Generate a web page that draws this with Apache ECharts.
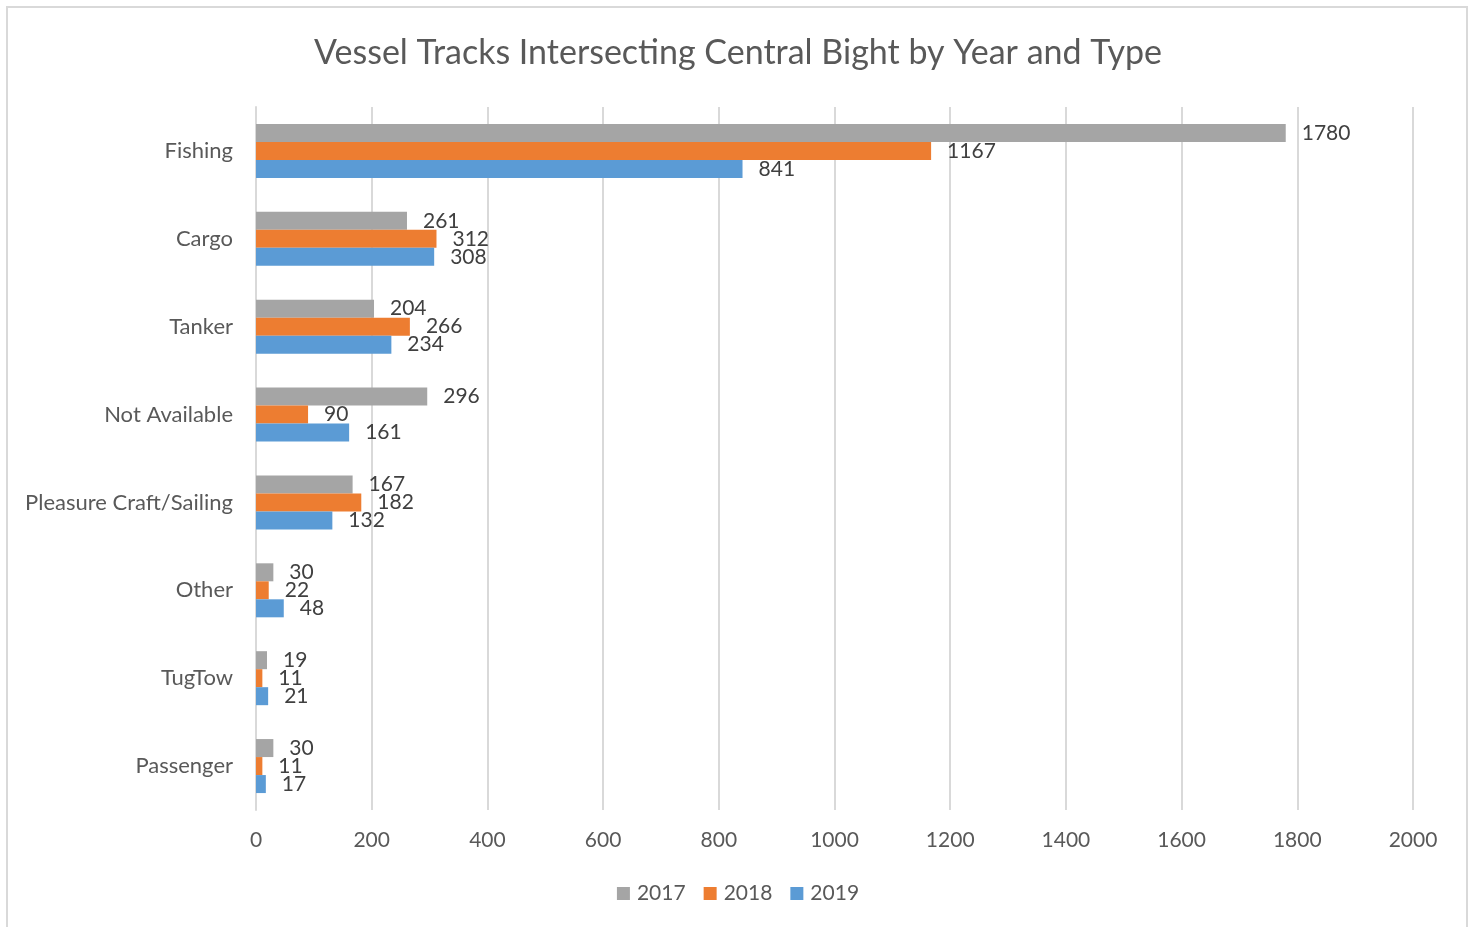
<!DOCTYPE html>
<html>
<head>
<meta charset="utf-8">
<script src="https://cdn.jsdelivr.net/npm/echarts@6/dist/echarts.min.js"></script>
<style>
  html, body { margin: 0; padding: 0; background: #fff; }
  #chart { width: 1476px; height: 927px; }
</style>
</head>
<body>
<div id="chart"></div>
<script>
// Vessel types, listed top to bottom
const categories = ['Fishing', 'Cargo', 'Tanker', 'Not Available', 'Pleasure Craft/Sailing', 'Other', 'TugTow', 'Passenger'];
const years = ['2017', '2018', '2019'];
const tracks2017 = [1780, 261, 204, 296, 167, 30, 19, 30];
const tracks2018 = [1167, 312, 266, 90, 182, 22, 11, 11];
const tracks2019 = [841, 308, 234, 161, 132, 48, 21, 17];
const colors = ['#a5a5a5', '#ed7d31', '#5b9bd5'];

const FONT = 'Lato';
const chart = echarts.init(document.getElementById('chart'));

function barSeries(name, data, color) {
  return {
    name: name,
    type: 'bar',
    data: data,
    barWidth: 18,
    barGap: '0%',
    itemStyle: { color: color },
    label: {
      show: true,
      position: 'right',
      distance: 16,
      color: '#404040',
      fontFamily: FONT,
      fontSize: 21
    }
  };
}

chart.setOption({
  animation: false,
  textStyle: { fontFamily: FONT },
  title: {
    text: 'Vessel Tracks Intersecting Central Bight by Year and Type',
    left: 'center',
    top: 31,
    textStyle: { color: '#595959', fontSize: 34, fontWeight: 'normal', fontFamily: FONT }
  },
  legend: {
    data: years,
    bottom: 18,
    left: 'center',
    itemWidth: 13,
    itemHeight: 13,
    itemGap: 18,
    icon: 'rect',
    textStyle: { color: '#595959', fontSize: 21, fontFamily: FONT, padding: [0, 0, 0, 2] }
  },
  grid: { left: 256, right: 63, top: 107, bottom: 117, containLabel: false },
  xAxis: {
    type: 'value',
    min: 0,
    max: 2000,
    interval: 200,
    axisLine: { show: false },
    axisTick: { show: false },
    axisLabel: { color: '#595959', fontSize: 21, fontFamily: FONT, margin: 20, formatter: v => String(v) },
    splitLine: { lineStyle: { color: '#d9d9d9', width: 2 } }
  },
  yAxis: {
    type: 'category',
    data: categories,
    inverse: true,
    axisLine: { lineStyle: { color: '#d9d9d9', width: 2 } },
    axisTick: { show: false },
    axisLabel: { color: '#595959', fontSize: 22, fontFamily: FONT, margin: 23 }
  },
  graphic: [{
    type: 'rect',
    shape: { x: 7, y: 7, width: 1460, height: 940 },
    style: { fill: 'none', stroke: '#d9d9d9', lineWidth: 2 }
  }],
  series: [
    barSeries('2017', tracks2017, colors[0]),
    barSeries('2018', tracks2018, colors[1]),
    barSeries('2019', tracks2019, colors[2])
  ]
});
</script>
</body>
</html>
